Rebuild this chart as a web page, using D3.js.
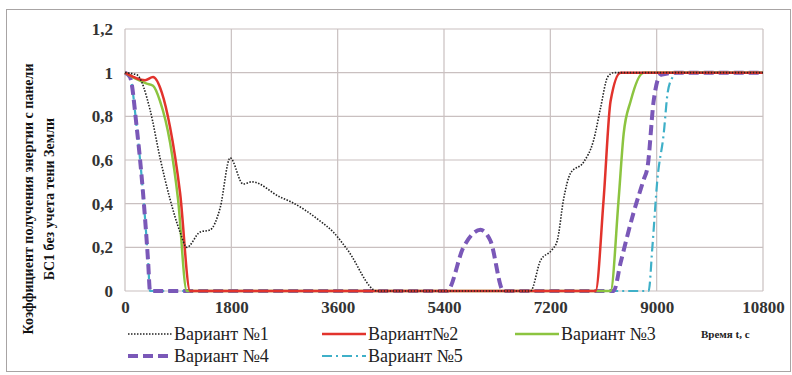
<!DOCTYPE html>
<html>
<head>
<meta charset="utf-8">
<script src="https://cdn.jsdelivr.net/npm/d3@7"></script>
</head>
<body style="margin:0">
<div id="chart"></div>
<script>
// chart data
const seriesNames = ["Вариант №1", "Вариант№2", "Вариант №3", "Вариант №4", "Вариант №5"];
const xTicks = [0, 1800, 3600, 5400, 7200, 9000, 10800];
const yTicks = [0, 0.2, 0.4, 0.6, 0.8, 1, 1.2];

const var1 = [[0,1],[200,0.99],[424,0.83],[593,0.61],[763,0.42],[932,0.27],[1046,0.2],[1271,0.27],[1441,0.28],
  [1610,0.38],[1780,0.61],[2000,0.49],[2147,0.5],[2627,0.43],[2797,0.41],[3305,0.32],[3525,0.27],[3763,0.19],
  [4271,0],[6865,0],[7034,0.14],[7232,0.19],[7317,0.23],[7424,0.42],[7543,0.54],[7763,0.59],[7932,0.69],
  [8051,0.84],[8170,0.98],[8271,1],[10800,1]];
const var2 = [[0,1],[340,0.965],[475,0.98],[622,0.91],[763,0.75],[932,0.45],[1102,0],[7966,0],[8102,0.42],
  [8220,0.87],[8390,1],[10800,1]];
const var3 = [[0,1],[198,0.97],[367,0.95],[475,0.94],[593,0.87],[763,0.68],[898,0.42],[1046,0],[8220,0],
  [8356,0.42],[8441,0.72],[8560,0.87],[8780,1],[10800,1]];
const var4 = [[0,1],[85,0.98],[198,0.75],[305,0.45],[390,0.14],[424,0],[5452,0],[5729,0.2],[6017,0.28],
  [6186,0.23],[6407,0],[8271,0],[8390,0.13],[8610,0.36],[8780,0.51],[8847,0.57],[8949,0.87],[9068,0.99],
  [9356,1],[10800,1]];
const var5 = [[0,1],[85,0.98],[198,0.75],[305,0.45],[390,0.14],[424,0],[8864,0],[8927,0.2],[9012,0.51],
  [9119,0.72],[9187,0.91],[9271,0.98],[9356,1],[10800,1]];

const FONT = "'Liberation Serif', 'Times New Roman', Tinos, serif";
const W = 792, H = 375;
const svg = d3.select("#chart").append("svg").attr("width", W).attr("height", H)
  .style("display", "block").style("font-family", FONT);

// outer frame
svg.append("rect").attr("x", 6.5).attr("y", 9.5).attr("width", 784).attr("height", 362)
  .attr("fill", "none").attr("stroke", "#a8a4a4").attr("stroke-width", 1);

const x = d3.scaleLinear().domain([0, 10800]).range([125, 763]);
const y = d3.scaleLinear().domain([0, 1.2]).range([291, 29]);

// grid
const grid = svg.append("g").attr("stroke", "#c9c0c0").attr("stroke-width", 1.2);
grid.selectAll(".gx").data(xTicks).join("line")
  .attr("x1", d => x(d)).attr("x2", d => x(d)).attr("y1", y(1.2)).attr("y2", y(0));
grid.selectAll(".gy").data(yTicks).join("line")
  .attr("x1", x(0)).attr("x2", x(10800)).attr("y1", d => y(d)).attr("y2", d => y(d));

// axes labels
const fmt = d => d3.format("~g")(d).replace(".", ",");
const yAxis = svg.append("g").attr("transform", `translate(${x(0)},0)`)
  .call(d3.axisLeft(y).tickValues(yTicks).tickFormat(fmt).tickSize(0).tickPadding(12));
const xAxis = svg.append("g").attr("transform", `translate(0,${y(0)})`)
  .call(d3.axisBottom(x).tickValues(xTicks).tickFormat(d3.format("d")).tickSize(0).tickPadding(10));
[yAxis, xAxis].forEach(a => {
  a.attr("font-family", null).attr("font-size", null);
  a.select(".domain").remove();
  a.selectAll("text").style("font-family", FONT).style("font-weight", "bold")
    .style("font-size", "17px").attr("fill", "#333");
});

// y title
const yt = svg.append("text").attr("transform", "translate(33,199) rotate(-90)")
  .attr("text-anchor", "middle").style("font-family", FONT).style("font-weight", "bold")
  .style("font-size", "14px").attr("fill", "#111");
yt.append("tspan").attr("x", 0).attr("dy", 0).text("Коэффициент получения энергии с панели");
yt.append("tspan").attr("x", 0).attr("dy", 21).text("БС1 без учета тени Земли");

// series
const styles = [
  {data: var1, color: "#222", width: 1.6, dash: "1.5,1.5"},
  {data: var2, color: "#e2332c", width: 2.5, dash: null},
  {data: var3, color: "#8cc440", width: 2.5, dash: null},
  {data: var4, color: "#7a58b8", width: 4, dash: "10,5"},
  {data: var5, color: "#3fb0c8", width: 2.2, dash: "10,4,2,4"}
];
const line = d3.line().x(d => x(d[0])).y(d => y(d[1])).curve(d3.curveMonotoneX);
const drawOrder = [4, 3, 2, 1, 0];
drawOrder.forEach(i => {
  const s = styles[i];
  svg.append("path").datum(s.data).attr("d", line)
    .attr("fill", "none").attr("stroke", s.color).attr("stroke-width", s.width)
    .attr("stroke-dasharray", s.dash);
});

// legend
const legPos = [[128, 338], [322, 338], [515, 338], [128, 360], [322, 360]];
styles.forEach((s, i) => {
  const [lx, ly] = legPos[i];
  svg.append("line").attr("x1", lx).attr("x2", lx + 44).attr("y1", ly - 4).attr("y2", ly - 4)
    .attr("stroke", s.color).attr("stroke-width", s.width).attr("stroke-dasharray", s.dash);
  svg.append("text").attr("x", lx + 46).attr("y", ly + 2).style("font-family", FONT)
    .style("font-size", "18px").attr("fill", "#222").text(seriesNames[i]);
});
svg.append("text").attr("x", 701).attr("y", 338).style("font-family", FONT)
  .style("font-weight", "bold").style("font-size", "11px").attr("fill", "#222").text("Время t, с");
</script>
</body>
</html>
